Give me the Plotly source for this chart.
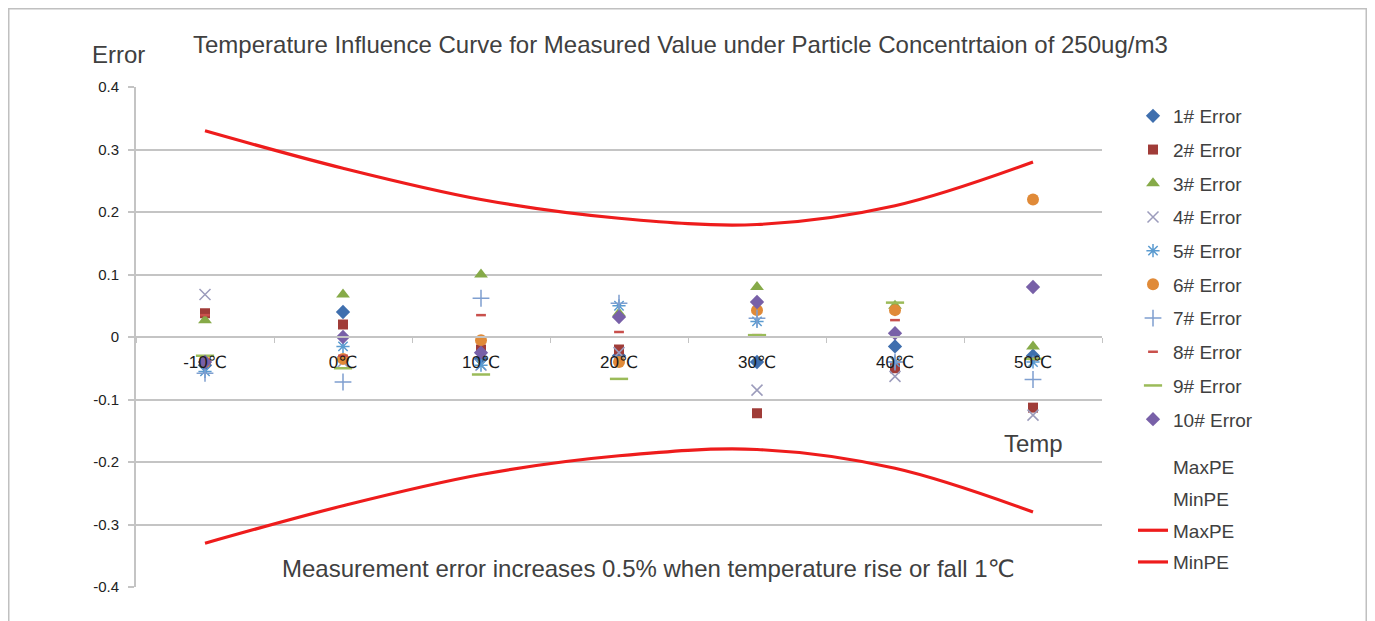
import plotly.graph_objects as go

# ---------------- data ----------------
temps = ["-10℃", "0℃", "10℃", "20℃", "30℃", "40℃", "50℃"]

err1 = [-0.045, 0.040, -0.035, -0.030, -0.040, -0.015, -0.030]
err2 = [0.038, 0.020, -0.020, -0.020, -0.122, -0.050, -0.113]
err3 = [0.027, 0.068, 0.100, 0.038, 0.080, 0.050, -0.015]
err4 = [0.068, -0.040, -0.045, -0.025, -0.085, -0.063, -0.125]
err5 = [-0.055, -0.015, -0.045, 0.050, 0.025, -0.040, -0.040]
err6 = [-0.040, -0.035, -0.005, -0.040, 0.043, 0.043, 0.220]
err7 = [-0.058, -0.072, 0.062, 0.054, 0.030, -0.040, -0.068]
err8 = [0.035, -0.030, 0.035, 0.008, 0.003, 0.027, -0.035]
err9 = [-0.030, -0.050, -0.060, -0.067, 0.003, 0.055, -0.035]
err10 = [-0.040, 0.000, -0.025, 0.032, 0.056, 0.006, 0.080]

max_pe = [0.33, 0.27, 0.22, 0.19, 0.18, 0.21, 0.28]
min_pe = [-0.33, -0.27, -0.22, -0.19, -0.18, -0.21, -0.28]

series_names = ["1# Error", "2# Error", "3# Error", "4# Error", "5# Error",
                "6# Error", "7# Error", "8# Error", "9# Error", "10# Error"]
series_values = [err1, err2, err3, err4, err5, err6, err7, err8, err9, err10]

y_tick_vals = [0.4, 0.3, 0.2, 0.1, 0, -0.1, -0.2, -0.3, -0.4]
y_tick_text = ["0.4", "0.3", "0.2", "0.1", "0", "-0.1", "-0.2", "-0.3", "-0.4"]

# ---------------- styles ----------------
styles = [
    dict(symbol="diamond", color="#3f6fae", size=11, line=dict(width=0)),
    dict(symbol="square", color="#a03c38", size=10, line=dict(width=0)),
    dict(symbol="triangle-up", color="#86aa48", size=12, line=dict(width=0)),
    dict(symbol="x-thin-open", color="#9c9cbc", size=11, line=dict(width=1.5, color="#9c9cbc")),
    dict(symbol="asterisk-open", color="#5b9bd0", size=11, line=dict(width=1.5, color="#5b9bd0")),
    dict(symbol="circle", color="#e08a38", size=12, line=dict(width=0)),
    dict(symbol="cross-thin-open", color="#7f9fd0", size=12, line=dict(width=1.5, color="#7f9fd0")),
    dict(symbol="line-ew-open", color="#c9504c", size=7, line=dict(width=2.5, color="#c9504c")),
    dict(symbol="line-ew-open", color="#9bbb59", size=13, line=dict(width=2.5, color="#9bbb59")),
    dict(symbol="diamond", color="#7860a8", size=11, line=dict(width=0)),
]

FONT = "Liberation Sans, Arial, DejaVu Sans, Noto Sans CJK SC"
OFF = 8                      # page body margin
W, H = 1375 - OFF, 621 - OFF
L, R, T, B = 136, 1102, 87, 587  # plot-area box in screen pixels


def px(x):
    return (x - L) / (R - L)


def py(y):
    return (B - y) / (B - T)


fig = go.Figure()

for i, (name, vals) in enumerate(zip(series_names, series_values)):
    st = styles[i]
    fig.add_trace(go.Scatter(
        x=temps, y=vals, mode="markers", name=name,
        legendgroup=f"g{i}", legend="legend",
        marker=dict(symbol=st["symbol"], color=st["color"], size=st["size"], line=st["line"]),
    ))

# series drawn without any marker or line (legend text only)
fig.add_trace(go.Scatter(x=temps, y=max_pe, mode="markers", name="MaxPE",
                         marker=dict(opacity=0, size=1, color="white"),
                         legend="legend2", legendgroup="h1", hoverinfo="skip"))
fig.add_trace(go.Scatter(x=temps, y=min_pe, mode="markers", name="MinPE",
                         marker=dict(opacity=0, size=1, color="white"),
                         legend="legend2", legendgroup="h2", hoverinfo="skip"))

fig.add_trace(go.Scatter(x=temps, y=max_pe, mode="lines", name="MaxPE",
                         line=dict(color="#ee1c1c", width=3.2, shape="spline"),
                         legend="legend2", legendgroup="h3"))
fig.add_trace(go.Scatter(x=temps, y=min_pe, mode="lines", name="MinPE",
                         line=dict(color="#ee1c1c", width=3.2, shape="spline"),
                         legend="legend2", legendgroup="h4"))

grid = "#c4c4c4"

fig.update_layout(
    width=W, height=H,
    margin=dict(l=L - OFF, r=W - (R - OFF), t=T - OFF, b=H - (B - OFF), pad=0),
    paper_bgcolor="white", plot_bgcolor="white",
    font=dict(family=FONT, color="#404040"),
    showlegend=True,
    legend=dict(
        x=px(1133), y=py(97), xanchor="left", yanchor="top",
        font=dict(size=19, color="#404040"),
        tracegroupgap=6, bgcolor="rgba(0,0,0,0)",
    ),
    legend2=dict(
        x=px(1133), y=py(448), xanchor="left", yanchor="top",
        font=dict(size=19, color="#404040"),
        tracegroupgap=4, bgcolor="rgba(0,0,0,0)",
    ),
    xaxis=dict(
        type="category", range=[-0.5, 6.5],
        anchor="free", position=0.5,
        showgrid=False, zeroline=False,
        showline=True, linecolor=grid, linewidth=2,
        ticks="outside", tickson="boundaries", ticklen=5, tickcolor=grid, tickwidth=1,
        tickfont=dict(size=17, color="#1a1a1a"),
        ticklabelstandoff=10,
    ),
    yaxis=dict(
        range=[-0.4, 0.4],
        tickvals=y_tick_vals, ticktext=y_tick_text,
        showgrid=True, gridcolor=grid, gridwidth=2,
        zeroline=False,
        showline=True, linecolor=grid, linewidth=2,
        ticks="outside", ticklen=6, tickcolor=grid, tickwidth=2,
        tickfont=dict(size=15, color="#222222"),
        ticklabelstandoff=6,
    ),
    shapes=[
        dict(type="rect", xref="paper", yref="paper",
             x0=px(8), x1=px(1367), y0=py(660), y1=py(8),
             line=dict(color="#c0c0c0", width=3), layer="below"),
    ],
    annotations=[
        dict(text="Temperature Influence Curve for Measured Value under Particle Concentrtaion of 250ug/m3",
             xref="paper", yref="paper", x=px(680), y=py(45), showarrow=False,
             xanchor="center", yanchor="middle", font=dict(size=24, color="#404040")),
        dict(text="Error", xref="paper", yref="paper", x=px(118), y=py(55), showarrow=False,
             xanchor="center", yanchor="middle", font=dict(size=24, color="#404040")),
        dict(text="Temp", xref="paper", yref="paper", x=px(1033), y=py(443), showarrow=False,
             xanchor="center", yanchor="middle", font=dict(size=24, color="#404040")),
        dict(text="Measurement error increases 0.5% when temperature rise or fall 1℃",
             xref="paper", yref="paper", x=px(648), y=py(568), showarrow=False,
             xanchor="center", yanchor="middle", font=dict(size=24, color="#404040")),
    ],
)

fig.write_html("out.html")
